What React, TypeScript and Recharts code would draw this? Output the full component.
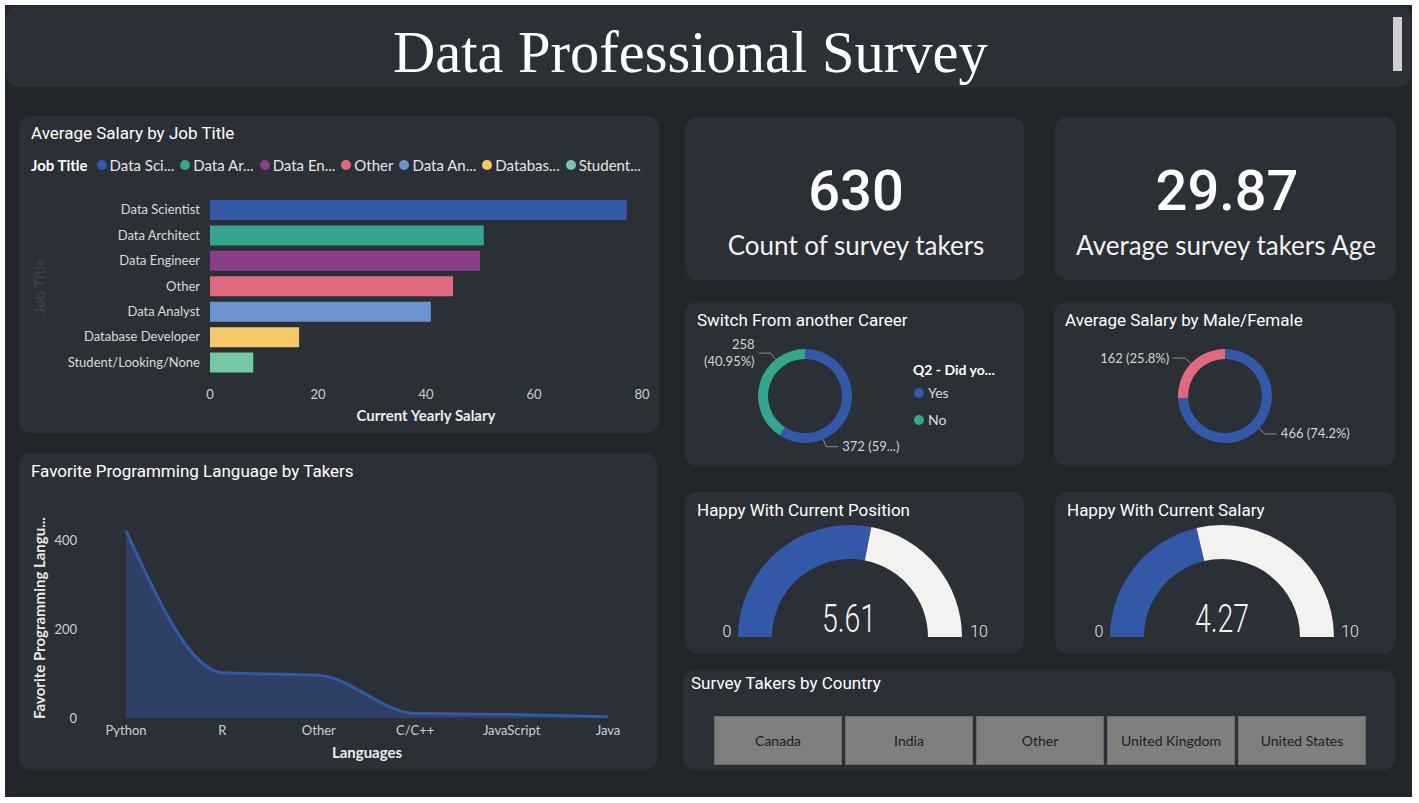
import React from 'react';
import { BarChart, Bar, XAxis, YAxis, Cell, AreaChart, Area, PieChart, Pie, Label } from 'recharts';

// ---------- data ----------
const jobTitles = ['Data Scientist', 'Data Architect', 'Data Engineer', 'Other', 'Data Analyst', 'Database Developer', 'Student/Looking/None'];
const avgSalary = [77.2, 50.7, 50.0, 45.0, 40.9, 16.5, 8.0];
const jobLegend = ['Data Sci...', 'Data Ar...', 'Data En...', 'Other', 'Data An...', 'Databas...', 'Student...'];
const salaryTicks = [0, 20, 40, 60, 80];

const languages = ['Python', 'R', 'Other', 'C/C++', 'JavaScript', 'Java'];
const languageTakers = [421, 102, 96, 10, 8, 3];
const takerTicks = [0, 200, 400];

const careerAnswers = ['Yes', 'No'];
const careerCounts = [372, 258];
const careerLabels = [['372 (59...)'], ['258', '(40.95%)']];

const genders = ['Male', 'Female'];
const genderCounts = [466, 162];
const genderLabels = [['466 (74.2%)'], ['162 (25.8%)']];

const gaugeMin = 0;
const gaugeMax = 10;
const happyPosition = 5.61;
const happySalary = 4.27;

const surveyCount = '630';
const avgAge = '29.87';

const countries = ['Canada', 'India', 'Other', 'United Kingdom', 'United States'];

// ---------- styles ----------
const BG = '#22252a';
const PANEL = '#2b2f36';
const BLUE = '#3358a8';
const TEAL = '#36a58f';
const PINK = '#df6a7f';
const jobColors = [BLUE, TEAL, '#8a3e8a', PINK, '#6b93cf', '#f5c96a', '#76c7a6'];
const careerColors = [BLUE, TEAL];
const genderColors = [BLUE, PINK];
const GAUGE_REST = '#f3f2f0';
const SEGOE = 'Lato, "Open Sans", sans-serif';
const DIN = 'Roboto, "DejaVu Sans", sans-serif';
const PIE_MARGIN = 5; // recharts default chart margin, pie cx/cy are measured inside it

const jobData = jobTitles.map((t, i) => ({ title: t, salary: avgSalary[i] }));
const langData = languages.map((l, i) => ({ lang: l, takers: languageTakers[i] }));
const careerData = careerAnswers.map((a, i) => ({ name: a, value: careerCounts[i] }));
const genderData = genders.map((g, i) => ({ name: g, value: genderCounts[i] }));

type TxtProps = {
  x: number; cy: number; fs: number; font?: string; anchor?: 'start' | 'middle' | 'end';
  weight?: number; color?: string; sx?: number; children: React.ReactNode;
};
function Txt({ x, cy, fs, font = SEGOE, anchor = 'start', weight = 400, color = '#ffffff', sx = 1, children }: TxtProps) {
  const k = font === DIN ? 0.486 : 0.53;
  const tx = anchor === 'middle' ? '-50%' : anchor === 'end' ? '-100%' : '0';
  return (
    <div
      style={{
        position: 'absolute', left: x, top: cy - k * fs, fontSize: fs, lineHeight: 1,
        fontFamily: font, fontWeight: weight, color, whiteSpace: 'nowrap',
        transform: `translateX(${tx}) scaleX(${sx})`, transformOrigin: anchor === 'middle' ? 'center' : anchor === 'end' ? 'right' : 'left',
      }}
    >
      {children}
    </div>
  );
}

function Panel({ x, y, w, h, r = 12 }: { x: number; y: number; w: number; h: number; r?: number }) {
  return <div style={{ position: 'absolute', left: x, top: y, width: w, height: h, background: PANEL, borderRadius: r }} />;
}

function Box({ x, y, w, h, children }: { x: number; y: number; w: number; h: number; children: React.ReactNode }) {
  return <div style={{ position: 'absolute', left: x, top: y, width: w, height: h, fontFamily: SEGOE }}>{children}</div>;
}

const makeDonutLabel = (lines: string[][], shifts: number[]) => (props: any) => {
  const { cx, cy, outerRadius, midAngle, index } = props;
  const a = ((midAngle + shifts[index]) * Math.PI) / 180;
  const cos = Math.cos(a);
  const sin = Math.sin(a);
  const px = cx + outerRadius * cos;
  const py = cy - outerRadius * sin;
  const ex = cx + (outerRadius + 8) * cos;
  const ey = cy - (outerRadius + 8) * sin;
  const right = cos >= 0;
  const hx = ex + (right ? 12 : -12);
  const tx = hx + (right ? 4 : -4);
  const ls = lines[index];
  const lh = 17;
  return (
    <g key={`lbl-${index}`}>
      <polyline points={`${px},${py} ${ex},${ey} ${hx},${ey}`} stroke="#8c8c8c" strokeWidth={1} fill="none" />
      <text x={tx} y={ey} textAnchor={right ? 'start' : 'end'} fill="#d4d4d4" fontSize={13} fontFamily={SEGOE}>
        {ls.map((l, i) => (
          <tspan key={i} x={tx} dy={i === 0 ? -((ls.length - 1) / 2) * lh + 4.5 : lh}>{l}</tspan>
        ))}
      </text>
    </g>
  );
};

function Gauge({ value, cx, cy }: { value: number; cx: number; cy: number }) {
  const data = [{ v: value - gaugeMin }, { v: gaugeMax - value }];
  return (
    <PieChart width={341} height={161}>
      <Pie data={data} dataKey="v" cx={cx - PIE_MARGIN} cy={cy - PIE_MARGIN} startAngle={180} endAngle={0} innerRadius={78} outerRadius={112}
        stroke="none" isAnimationActive={false}>
        <Cell fill={BLUE} />
        <Cell fill={GAUGE_REST} />
      </Pie>
    </PieChart>
  );
}

const TITLE_W = 400;
const KPI_W = 500;

export default function App() {
  return (
    <div style={{ position: 'absolute', left: 0, top: 0, width: 1419, height: 803, background: '#ffffff', overflow: 'hidden' }}>
      <div style={{ position: 'absolute', left: 5, top: 5, width: 1407, height: 792, background: BG }} />

      {/* header */}
      <Panel x={6} y={6} w={1405} h={81} r={12} />
      <div style={{ position: 'absolute', left: 393, top: 23.5, fontFamily: '"Liberation Serif", "Times New Roman", serif', fontSize: 58.5, lineHeight: 1, color: '#ffffff', whiteSpace: 'nowrap' }}>
        Data Professional Survey
      </div>
      <div style={{ position: 'absolute', left: 1393, top: 17, width: 9, height: 54, background: '#cfcfcf' }} />

      {/* panels */}
      <Panel x={19} y={116} w={640} h={317} />
      <Panel x={19} y={453} w={638} h={317} />
      <Panel x={685} y={117} w={339} h={163} />
      <Panel x={1055} y={117} w={341} h={163} />
      <Panel x={685} y={302} w={339} h={164} />
      <Panel x={1054} y={302} w={341} h={164} />
      <Panel x={685} y={492} w={339} h={161} />
      <Panel x={1055} y={492} w={341} h={161} />
      <Panel x={683} y={670} w={712} h={100} />

      {/* Average Salary by Job Title */}
      <Txt x={31} cy={133} fs={17} font={DIN} weight={TITLE_W}>Average Salary by Job Title</Txt>
      <div style={{ position: 'absolute', left: 31, top: 157, height: 16, display: 'flex', alignItems: 'center', fontFamily: SEGOE, fontSize: 15, color: '#e6e6e6', whiteSpace: 'nowrap' }}>
        <span style={{ fontWeight: 700, color: '#ffffff', marginRight: 9 }}>Job Title</span>
        {jobLegend.map((l, i) => (
          <span key={l} style={{ display: 'flex', alignItems: 'center', marginRight: 6 }}>
            <span style={{ width: 10, height: 10, borderRadius: 5, background: jobColors[i], marginRight: 3, display: 'inline-block' }} />
            {l}
          </span>
        ))}
      </div>
      <Box x={19} y={116} w={640} h={317}>
        <BarChart width={640} height={317} data={jobData} layout="vertical" margin={{ top: 81, right: 17, bottom: 0, left: 0 }} barSize={20}>
          <XAxis type="number" domain={[0, 80]} ticks={salaryTicks} axisLine={false} tickLine={false}
            tick={{ fill: '#cfcfcf', fontSize: 13 }} tickMargin={9} height={58}>
            <Label value="Current Yearly Salary" position="insideBottom" offset={12} fill="#ececec" fontSize={15} fontWeight={700} />
          </XAxis>
          <YAxis type="category" dataKey="title" width={191} axisLine={false} tickLine={false}
            tick={{ fill: '#dadada', fontSize: 13 }} tickMargin={4} interval={0}>
            <Label value="Job Title" angle={-90} position="insideLeft" offset={21} fill="#3a3e46" fontSize={15} fontWeight={700} style={{ textAnchor: 'middle' }} />
          </YAxis>
          <Bar dataKey="salary" isAnimationActive={false}>
            {jobData.map((d, i) => <Cell key={d.title} fill={jobColors[i]} />)}
          </Bar>
        </BarChart>
      </Box>

      {/* Favorite Programming Language */}
      <Txt x={31} cy={471} fs={17} font={DIN} weight={TITLE_W}>Favorite Programming Language by Takers</Txt>
      <Box x={19} y={453} w={638} h={317}>
        <AreaChart width={638} height={317} data={langData} margin={{ top: 65, right: 49, bottom: 0, left: 17 }}>
          <XAxis dataKey="lang" axisLine={false} tickLine={false} tick={{ fill: '#cfcfcf', fontSize: 13 }} height={52} interval={0}>
            <Label value="Languages" position="insideBottom" offset={12} fill="#ececec" fontSize={15} fontWeight={700} />
          </XAxis>
          <YAxis type="number" domain={[0, 450]} ticks={takerTicks} axisLine={false} tickLine={false}
            tick={{ fill: '#cfcfcf', fontSize: 13 }} width={90} tickMargin={43}>
            <Label value="Favorite Programming Langu..." angle={-90} position="insideLeft" offset={4} fill="#ececec" fontSize={15} fontWeight={700} style={{ textAnchor: 'middle' }} />
          </YAxis>
          <Area type="monotone" dataKey="takers" stroke={BLUE} strokeWidth={3} fill={BLUE} fillOpacity={0.42}
            dot={false} activeDot={false} isAnimationActive={false} />
        </AreaChart>
      </Box>

      {/* KPI cards */}
      <Txt x={856} cy={190} fs={56} font={DIN} weight={KPI_W} anchor="middle">{surveyCount}</Txt>
      <Txt x={856} cy={246} fs={26} anchor="middle" weight={400} color="#f2f2f2">Count of survey takers</Txt>
      <Txt x={1227} cy={190} fs={56} font={DIN} weight={KPI_W} anchor="middle">{avgAge}</Txt>
      <Txt x={1226} cy={246} fs={26} anchor="middle" weight={400} color="#f2f2f2">Average survey takers Age</Txt>

      {/* Switch From another Career */}
      <Txt x={697} cy={320} fs={17} font={DIN} weight={TITLE_W}>Switch From another Career</Txt>
      <Box x={685} y={302} w={339} h={164}>
        <PieChart width={339} height={164}>
          <Pie data={careerData} dataKey="value" nameKey="name" cx={120 - PIE_MARGIN} cy={94 - PIE_MARGIN} innerRadius={37} outerRadius={47}
            startAngle={90} endAngle={-270} stroke="none" isAnimationActive={false}
            label={makeDonutLabel(careerLabels, [-51, -35])} labelLine={false}>
            {careerData.map((d, i) => <Cell key={d.name} fill={careerColors[i]} />)}
          </Pie>
        </PieChart>
      </Box>
      <Txt x={913} cy={370} fs={14} weight={700}>Q2 - Did yo...</Txt>
      {careerAnswers.map((a, i) => (
        <React.Fragment key={a}>
          <div style={{ position: 'absolute', left: 914, top: 388 + i * 27, width: 10, height: 10, borderRadius: 5, background: careerColors[i] }} />
          <Txt x={928} cy={393 + i * 27} fs={14} color="#dcdcdc">{a}</Txt>
        </React.Fragment>
      ))}

      {/* Average Salary by Male/Female */}
      <Txt x={1065} cy={320} fs={17} font={DIN} weight={TITLE_W}>Average Salary by Male/Female</Txt>
      <Box x={1054} y={302} w={341} h={164}>
        <PieChart width={341} height={164}>
          <Pie data={genderData} dataKey="value" nameKey="name" cx={171 - PIE_MARGIN} cy={94 - PIE_MARGIN} innerRadius={37} outerRadius={47}
            startAngle={90} endAngle={-270} stroke="none" isAnimationActive={false}
            label={makeDonutLabel(genderLabels, [0, 0])} labelLine={false}>
            {genderData.map((d, i) => <Cell key={d.name} fill={genderColors[i]} />)}
          </Pie>
        </PieChart>
      </Box>

      {/* Gauges */}
      <Txt x={697} cy={510} fs={17} font={DIN} weight={TITLE_W}>Happy With Current Position</Txt>
      <Box x={685} y={492} w={339} h={161}>
        <Gauge value={happyPosition} cx={165} cy={145} />
      </Box>
      <Txt x={727} cy={632} fs={16} font={DIN} weight={300} anchor="middle" color="#e6e6e6">{gaugeMin}</Txt>
      <Txt x={979} cy={632} fs={16} font={DIN} weight={300} anchor="middle" color="#e6e6e6">{gaugeMax}</Txt>
      <Txt x={849} cy={618} fs={38} font={DIN} weight={300} anchor="middle" sx={0.75} color="#f4f4f4">{happyPosition.toFixed(2)}</Txt>

      <Txt x={1067} cy={510} fs={17} font={DIN} weight={TITLE_W}>Happy With Current Salary</Txt>
      <Box x={1055} y={492} w={341} h={161}>
        <Gauge value={happySalary} cx={167} cy={145} />
      </Box>
      <Txt x={1099} cy={632} fs={16} font={DIN} weight={300} anchor="middle" color="#e6e6e6">{gaugeMin}</Txt>
      <Txt x={1350} cy={632} fs={16} font={DIN} weight={300} anchor="middle" color="#e6e6e6">{gaugeMax}</Txt>
      <Txt x={1222} cy={618} fs={38} font={DIN} weight={300} anchor="middle" sx={0.75} color="#f4f4f4">{happySalary.toFixed(2)}</Txt>

      {/* Survey Takers by Country */}
      <Txt x={691} cy={683} fs={17} font={DIN} weight={TITLE_W}>Survey Takers by Country</Txt>
      <div style={{ position: 'absolute', left: 714, top: 716, display: 'flex', gap: 3 }}>
        {countries.map((c) => (
          <div key={c} style={{
            width: 126, height: 47, background: '#7f7f7f', border: '1px solid #6a6a6a',
            display: 'flex', alignItems: 'center', justifyContent: 'center',
            fontFamily: SEGOE, fontSize: 14, color: '#1e1e1e', whiteSpace: 'nowrap',
          }}>{c}</div>
        ))}
      </div>
    </div>
  );
}
